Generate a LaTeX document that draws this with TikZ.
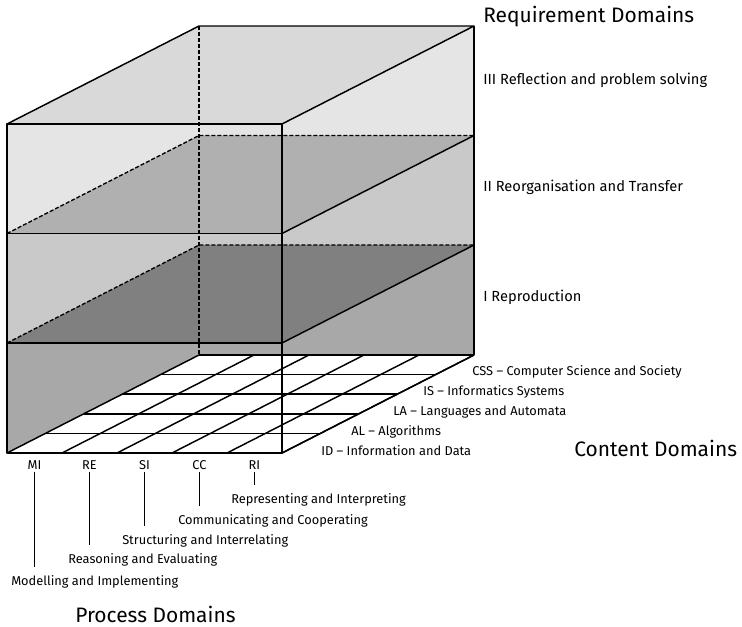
\documentclass[tikz,border=0pt]{standalone}
\usepackage{fontspec}
\setmainfont{Fira Sans}
\usetikzlibrary{positioning}

\definecolor{topIII}{HTML}{D9D9D9}
\definecolor{wallIII}{HTML}{E5E5E5}
\definecolor{planeII}{HTML}{B0B0B0}
\definecolor{wallII}{HTML}{C9C9C9}
\definecolor{planeI}{HTML}{808080}
\definecolor{wallI}{HTML}{A8A8A8}

\begin{document}
\begin{tikzpicture}[x=0.75pt, y=-0.75pt, line join=round,
    edge/.style={line width=1.1pt},
    hidden/.style={line width=1pt, dash pattern=on 3pt off 1.5pt},
    tick/.style={line width=1.4pt},
    lvl/.style={anchor=west, inner sep=0pt, font=\fontsize{11}{13}\selectfont},
    cnt/.style={anchor=west, inner sep=0pt, font=\fontsize{9.6}{11}\selectfont},
    abbr/.style={inner sep=1.5pt, font=\fontsize{9.6}{11}\selectfont},
    title/.style={anchor=west, inner sep=0pt, font=\fontsize{15.7}{18}\selectfont}]

    \useasboundingbox (0,0) rectangle (742,627);

    % Geometria do cubo
    \def\L{7}  \def\R{282}  \def\W{275}
    \def\dx{192} \def\dy{98}
    % Niveis na face da frente
    \def\yA{124} \def\yB{233.5} \def\yC{343} \def\yD{453}

    % Camada III (topo)
    \fill[wallIII] (\L,\yA) rectangle (\R,\yB);
    \fill[wallIII] (\R,\yA) -- ++(\dx,-\dy) -- (\R+\dx,\yB-\dy) -- (\R,\yB) -- cycle;
    \fill[topIII] (\L,\yA) -- (\R,\yA) -- ++(\dx,-\dy) -- ++(-\W,0) -- cycle;
    \fill[planeII] (\L,\yB) -- (\R,\yB) -- ++(\dx,-\dy) -- ++(-\W,0) -- cycle;

    % Camada II
    \fill[wallII] (\L,\yB) rectangle (\R,\yC);
    \fill[wallII] (\R,\yB) -- ++(\dx,-\dy) -- (\R+\dx,\yC-\dy) -- (\R,\yC) -- cycle;
    \fill[planeI] (\L,\yC) -- (\R,\yC) -- ++(\dx,-\dy) -- ++(-\W,0) -- cycle;

    % Camada I
    \fill[wallI] (\L,\yC) rectangle (\R,\yD);
    \fill[wallI] (\R,\yC) -- ++(\dx,-\dy) -- (\R+\dx,\yD-\dy) -- (\R,\yD) -- cycle;

    % Chao (grelha)
    \fill[white] (\L,\yD) -- (\R,\yD) -- ++(\dx,-\dy) -- ++(-\W,0) -- cycle;

    % Arestas escondidas
    \draw[hidden] (\L+\dx,\yA-\dy) -- (\L+\dx,\yD-\dy);
    \draw[hidden] (\L,\yB) -- (\L+\dx,\yB-\dy) -- (\R+\dx,\yB-\dy);
    \draw[hidden] (\L,\yC) -- (\L+\dx,\yC-\dy) -- (\R+\dx,\yC-\dy);

    % Grelha 5x5
    \foreach \i in {0,...,5}
        \draw[edge] (\L+\i*55,\yD) -- ++(\dx,-\dy);
    \foreach \j in {0,...,5}
        \draw[edge] (\L+\j*\dx/5,\yD-\j*\dy/5) -- ++(\W,0);

    % Arestas visiveis
    \draw[edge] (\L,\yA) rectangle (\R,\yD);
    \draw[edge] (\L,\yB) -- (\R,\yB);
    \draw[edge] (\L,\yC) -- (\R,\yC);
    \draw[edge] (\L,\yA) -- ++(\dx,-\dy) -- ++(\W,0) -- (\R,\yA);
    \draw[edge] (\R+\dx,\yA-\dy) -- (\R+\dx,\yD-\dy);
    \foreach \y in {\yB,\yC,\yD}
        \draw[edge] (\R,\y) -- ++(\dx,-\dy);

    % Requirement Domains
    \node[title] (req) at (483,17) {Requirement Domains};
    \node[lvl] (lvlIII) at (483,80) {III Reflection and problem solving};
    \node[lvl] (lvlII) at (483,187) {II Reorganisation and Transfer};
    \node[lvl] (lvlI) at (483,297) {I Reproduction};

    % Content Domains
    \node[cnt] (css) at (472,372) {CSS – Computer Science and Society};
    \node[cnt] (is) at (423,392) {IS – Informatics Systems};
    \node[cnt] (la) at (393,412) {LA – Languages and Automata};
    \node[cnt] (al) at (351,432) {AL – Algorithms};
    \node[cnt] (id) at (321,451) {ID – Information and Data};
    \node[title] (content) at (574,448) {Content Domains};

    % Process Domains
    \node[abbr] (mi) at (34.5,465) {MI};
    \node[abbr] (re) at (89.5,465) {RE};
    \node[abbr] (si) at (144.5,465) {SI};
    \node[abbr] (cc) at (199.5,465) {CC};
    \node[abbr] (ri) at (254.5,465) {RI};

    \node[cnt] (rip) at (231,500) {Representing and Interpreting};
    \node[cnt] (coc) at (178,521) {Communicating and Cooperating};
    \node[cnt] (sir) at (122,541) {Structuring and Interrelating};
    \node[cnt] (rev) at (68,560) {Reasoning and Evaluating};
    \node[cnt] (mdl) at (11,582) {Modelling and Implementing};
    \node[title] (process) at (75,614) {Process Domains};

    \draw[tick] (mi.south) -- ([yshift=6pt]mi.south |- mdl.north);
    \draw[tick] (re.south) -- ([yshift=6pt]re.south |- rev.north);
    \draw[tick] (si.south) -- ([yshift=6pt]si.south |- sir.north);
    \draw[tick] (cc.south) -- ([yshift=6pt]cc.south |- coc.north);
    \draw[tick] (ri.south) -- ([yshift=6pt]ri.south |- rip.north);

\end{tikzpicture}
\end{document}
